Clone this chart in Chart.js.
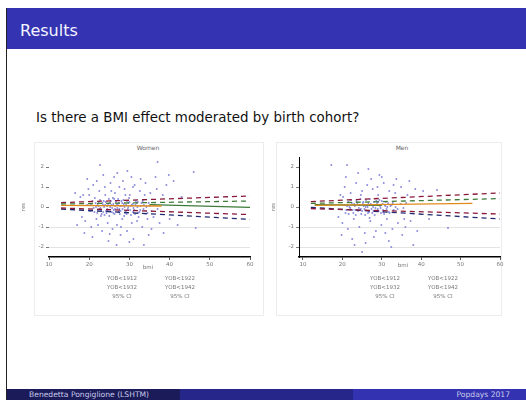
<!DOCTYPE html>
<html><head><meta charset="utf-8">
<script src="https://cdn.jsdelivr.net/npm/chart.js@4.4.1/dist/chart.umd.min.js"></script>
<style>
html,body{margin:0;padding:0;width:526px;height:400px;background:#fff;overflow:hidden;font-family:"DejaVu Sans",sans-serif;}
.abs{position:absolute;}
.lg{position:absolute;font-size:5.5px;color:#777;white-space:nowrap;transform:translateX(-50%);}
</style></head>
<body>
<div class="abs" style="left:6px;top:8px;width:1px;height:392px;background:#222;"></div>
<div class="abs" style="left:7px;top:8px;width:519px;height:41px;background:#3434b2;"></div>
<div class="abs" style="left:20px;top:21px;font-size:16px;color:#f4f4ff;">Results</div>
<div class="abs" style="left:36px;top:110px;font-size:13.4px;color:#111;">Is there a BMI effect moderated by birth cohort?</div>

<div class="abs" style="left:34px;top:142px;width:228px;height:172px;border:1px solid #ececec;"></div>
<div class="abs" style="left:276px;top:142px;width:224px;height:172px;border:1px solid #ececec;"></div>

<div class="abs" style="left:7px;top:389px;width:173px;height:11px;background:#1b1b5a;"></div>
<div class="abs" style="left:180px;top:389px;width:173px;height:11px;background:#26268a;"></div>
<div class="abs" style="left:353px;top:389px;width:173px;height:11px;background:#3333b2;"></div>
<div class="abs" style="left:29px;top:390px;font-size:7.6px;color:#c8c8e8;">Benedetta Pongiglione (LSHTM)</div>
<div class="abs" style="right:16px;top:390px;font-size:7.6px;color:#c8c8e8;">Popdays 2017</div>

<div class="abs" style="top:144px;font-size:6px;color:#666;transform:translateX(-50%);left:148px;">Women</div>
<div class="abs" style="left:402px;top:144px;font-size:6px;color:#666;transform:translateX(-50%);">Men</div>

<div class="abs" style="left:20px;top:150px;width:240px;height:125px;"><canvas id="cw" width="240" height="125"></canvas></div>
<div class="abs" style="left:270px;top:150px;width:240px;height:125px;"><canvas id="cm" width="240" height="125"></canvas></div>

<div class="lg" style="left:148px;top:264px;">bmi</div>
<div class="lg" style="left:403px;top:262px;">bmi</div>

<div id="legW"></div>
<div id="legM"></div>

<script>
const xTicks = [10, 20, 30, 40, 50, 60];
const yTicks = [-2, -1, 0, 1, 2];
const yTickLabels = ["-2", "-1", "0", "1", "2"];
const legendLeft = ["YOB<1912", "YOB<1932", "95% CI"];
const legendRight = ["YOB<1922", "YOB<1942", "95% CI"];

const womenPoints = [
[19.5,0.1],[20.2,-0.2],[20.8,0.3],[21.1,-0.05],[21.6,0.2],[22.0,-0.3],[22.3,0.05],[22.7,0.35],[23.0,-0.15],[23.4,0.1],[23.8,-0.4],[24.1,0.25],[24.5,-0.1],[24.9,0.4],[25.2,0.0],[25.6,-0.25],[26.0,0.15],[26.3,-0.35],[26.7,0.3],[27.0,-0.05],[27.4,0.2],[27.8,-0.2],[28.1,0.05],[28.5,0.35],[28.9,-0.3],[29.2,0.1],[29.6,-0.1],[30.0,0.25],[30.4,-0.4],[30.8,0.15],[31.2,-0.15],[31.6,0.3],[32.0,0.0],[32.5,-0.25],[33.0,0.2],[33.5,-0.1],[21.4,0.45],[22.9,-0.45],[24.3,-0.3],[25.9,0.45],[27.2,0.4],[28.7,-0.45],[29.9,0.45],[31.4,-0.35],[23.6,0.3],[26.5,0.05],[27.6,-0.35],[25.0,-0.45],
[20.4,0.15],[21.3,-0.25],[22.1,0.1],[22.6,-0.1],[23.3,0.2],[23.7,0.0],[24.2,-0.2],[24.7,0.15],[25.4,0.3],[25.7,-0.05],[26.1,-0.15],[26.6,0.25],[27.1,0.1],[27.3,-0.25],[27.7,0.05],[28.0,0.3],[28.3,-0.1],[28.6,0.15],[29.1,-0.2],[29.4,0.3],[29.7,0.0],[30.2,-0.15],[30.6,0.1],[31.0,-0.05],[31.8,0.2],[32.2,-0.3],[32.8,0.05],[33.3,0.3],[34.2,0.0],[34.8,0.2],[35.5,-0.2],[36.2,0.1],[24.4,0.05],[26.2,0.4],[23.1,-0.35],[21.7,0.0],
[22.4,0.2],[22.8,-0.05],[23.5,-0.25],[24.0,0.1],[24.6,-0.15],[25.1,0.2],[25.5,0.1],[26.0,-0.3],[26.4,-0.1],[26.9,0.15],[27.5,-0.1],[28.2,0.2],[28.8,0.0],[29.3,-0.35],[29.8,0.2],[30.3,0.05],[30.9,-0.25],[31.5,0.1],[32.1,0.25],[32.7,-0.15],[33.6,0.1],[34.5,-0.3],[35.0,0.05],[37.0,-0.1],
[18.5,0.6],[19.0,-0.7],[19.8,0.9],[20.5,-1.0],[21.0,1.1],[21.8,-0.6],[22.5,0.8],[23.2,-1.2],[23.9,1.0],[24.6,-0.8],[25.3,1.2],[25.8,-1.1],[26.4,0.7],[26.9,-0.9],[27.5,1.0],[28.2,-0.6],[28.8,0.9],[29.4,-1.2],[30.1,0.6],[30.6,-0.8],[31.3,1.1],[31.9,-0.7],[32.6,0.8],[33.2,-1.0],[33.8,0.6],[34.5,-0.6],[35.2,0.7],[36.0,-0.5],[36.8,0.9],[37.5,-0.8],[38.3,0.6],[39.2,1.1],[40.0,-0.6],[17.8,0.5],[18.2,-0.5],[20.0,0.6],[22.2,-0.9],[24.0,0.6],[25.5,0.8],[27.9,-1.0],[29.0,0.6],[30.9,1.0],[32.3,-0.5],[34.0,1.2],[35.5,-1.1],[16.5,0.7],[17.0,-0.9],
[22.7,2.1],[37.0,2.25],[46.0,1.75],[27.0,1.7],[30.0,-1.75],[46.5,-1.05],[19.5,1.4],[20.8,-1.5],[23.5,1.6],[24.8,-1.7],[26.2,1.5],[27.8,-1.4],[29.5,1.8],[31.0,-1.6],[32.8,1.4],[34.8,-1.4],[36.5,1.5],[38.5,-1.3],[41.0,1.3],[28.4,1.3],[25.1,-1.35],[21.9,1.3],[33.6,-1.9],[39.8,1.6],[43.0,0.5],[42.0,-0.9],[18.8,-1.3],[26.8,-1.9],[30.5,1.5]
];

const menPoints = [
[20.5,0.1],[21.0,-0.15],[21.5,0.25],[22.0,-0.05],[22.4,0.2],[22.8,-0.3],[23.2,0.05],[23.6,0.3],[24.0,-0.2],[24.4,0.1],[24.8,-0.35],[25.2,0.2],[25.6,-0.1],[26.0,0.35],[26.4,0.0],[26.8,-0.25],[27.2,0.15],[27.6,-0.3],[28.0,0.25],[28.4,-0.05],[28.8,0.2],[29.2,-0.2],[29.6,0.05],[30.0,0.3],[30.4,-0.25],[30.8,0.1],[31.2,-0.1],[31.6,0.2],[32.0,-0.3],[32.5,0.1],[33.0,-0.15],[22.2,0.35],[23.4,-0.4],[24.6,0.4],[25.8,-0.4],[27.0,0.4],[28.2,-0.4],[29.4,0.35],[30.6,-0.35],[21.8,0.0],[23.0,0.15],[24.2,-0.05],[25.4,0.05],[26.6,0.2],[27.8,0.0],[29.0,-0.1],[30.2,0.15],[31.4,0.0],
[21.2,0.05],[22.6,-0.15],[23.8,0.2],[25.0,-0.2],[26.2,0.1],[27.4,-0.1],[28.6,0.3],[29.8,-0.3],[31.0,0.25],[32.2,0.05],[20.8,-0.3],[34.0,-0.1],[34.8,0.15],[35.5,-0.05],
[22.9,0.1],[23.3,-0.15],[24.7,-0.1],[25.3,0.25],[25.9,0.0],[26.5,-0.3],[27.1,0.1],[27.9,-0.2],[28.3,0.1],[29.1,0.25],[29.7,-0.05],[30.3,-0.15],[30.9,0.05],[31.8,-0.25],[32.8,0.2],[33.5,0.0],[36.2,0.2],[21.6,-0.35],
[19.5,0.6],[20.0,-0.8],[20.6,1.0],[21.4,-1.1],[22.1,0.7],[22.9,-0.6],[23.5,1.2],[24.3,-1.0],[25.0,0.8],[25.7,-1.3],[26.3,1.1],[27.1,-0.7],[27.7,0.9],[28.5,-1.2],[29.1,0.6],[29.9,-0.9],[30.5,1.2],[31.3,-0.6],[31.9,0.8],[32.7,-1.1],[33.4,0.7],[34.1,-0.8],[34.9,1.0],[35.7,-0.6],[36.5,0.6],[37.3,-0.7],[38.5,0.9],[20.2,0.5],[24.7,0.6],[26.9,-0.55],[28.9,1.0],[30.9,-1.3],[33.0,1.1],[36.0,-1.0],[19.0,-0.5],
[17.2,2.1],[21.2,2.1],[44.0,0.85],[46.8,-1.05],[25.0,-2.25],[29.4,1.6],[20.9,1.5],[22.5,-1.6],[24.0,1.7],[25.9,-1.8],[27.3,1.4],[28.0,-1.5],[30.0,1.5],[31.8,-1.7],[33.7,1.4],[35.2,-1.4],[37.0,1.3],[39.0,-1.2],[40.5,0.8],[42.0,-0.6],[23.1,-1.9],[26.6,1.9],[32.4,-2.0],[19.8,-1.4],[38.0,-1.9]
];

/* fitted lines and 95% CI bounds: [bmi, value] */
const wOrangeFit = [[13,0.08],[38,0.05]];
const wGreenFit = [[35,0.12],[60,-0.02]];
const wMaroonUpper = [[13,0.22],[60,0.55]];
const wMaroonLower = [[13,-0.05],[60,-0.38]];
const wNavyLower = [[13,-0.1],[60,-0.62]];
const wGreenUpper = [[13,0.15],[60,0.3]];

const mOrangeFit = [[13,0.08],[53,0.18]];
const mGreenFit = [[13,0.12],[30,0.08]];
const mMaroonUpper = [[12,0.27],[60,0.7]];
const mGreenUpper = [[12,0.18],[60,0.42]];
const mNavyLower = [[12,-0.02],[60,-0.6]];
const mMaroonLower = [[12,-0.08],[60,-0.35]];

const C = {maroon:'#8a1838', navy:'#202a70', green:'#3d7b38', orange:'#e08a1c', dots:'#8c8cdc'};

function toXY(a){return a.map(p=>({x:p[0],y:p[1]}));}
function line(d,color,dashed){return {type:'line',data:toXY(d),borderColor:color,borderWidth:1.3,borderDash:dashed?[5,4]:[],pointRadius:0,fill:false,showLine:true};}

function makeChart(id, pts, lines, xmin, showYLine){
  return new Chart(document.getElementById(id), {
    type:'scatter',
    data:{datasets:[
      ...lines,
      {type:'scatter',data:toXY(pts),backgroundColor:C.dots,borderColor:C.dots,pointRadius:1,borderWidth:0,order:10}
    ]},
    options:{
      responsive:false,animation:false,
      layout:{padding:{top:7,right:10,left:0,bottom:0}},
      plugins:{legend:{display:false},tooltip:{enabled:false}},
      scales:{
        x:{type:'linear',min:xmin,max:60,
          afterBuildTicks:s=>{s.ticks=xTicks.map(v=>({value:v}));},
          afterFit:s=>{s.height=18;},
          grid:{color:'transparent',tickColor:'#555',tickLength:3,drawOnChartArea:false},
          border:{color:'#000',width:1.5},
          ticks:{font:{size:5.5,family:'DejaVu Sans'},color:'#777',padding:1,maxRotation:0}},
        y:{type:'linear',min:-2.5,max:2.5,
          afterBuildTicks:s=>{s.ticks=yTicks.map(v=>({value:v}));},
          afterFit:s=>{s.width=29;},
          title:{display:true,text:'res',font:{size:5.5,family:'DejaVu Sans'},color:'#777',padding:0},
          grid:{color:c=>(c.tick && c.tick.value<=-1)?'#dcdcdc':'transparent',tickColor:'#555',tickLength:3,lineWidth:0.8},
          border:{display:showYLine,color:'#000',width:1},
          ticks:{font:{size:5.5,family:'DejaVu Sans'},color:'#777',padding:2,
            callback:(v)=>yTickLabels[yTicks.indexOf(v)]}}
      }
    }
  });
}

makeChart('cw', womenPoints, [
  line(wMaroonUpper,C.maroon,true), line(wMaroonLower,C.maroon,true),
  line(wNavyLower,C.navy,true), line(wGreenUpper,C.green,true),
  line(wOrangeFit,C.orange,false), line(wGreenFit,C.green,false)
], 10, false);

makeChart('cm', menPoints, [
  line(mMaroonUpper,C.maroon,true), line(mMaroonLower,C.maroon,true),
  line(mNavyLower,C.navy,true), line(mGreenUpper,C.green,true),
  line(mOrangeFit,C.orange,false), line(mGreenFit,C.green,false)
], 9, true);

function legend(elId, cx1, cx2){
  const el=document.getElementById(elId);
  const rows=[275,284,293];
  let h='';
  rows.forEach((t,i)=>{
    h+=`<div class="lg" style="left:${cx1}px;top:${t}px;">${legendLeft[i]}</div>`;
    h+=`<div class="lg" style="left:${cx2}px;top:${t}px;">${legendRight[i]}</div>`;
  });
  el.innerHTML=h;
}
legend('legW',122,180);
legend('legM',385,443);
</script>
</body></html>
